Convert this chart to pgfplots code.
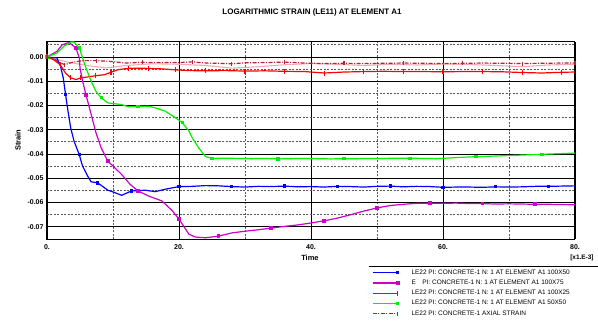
\documentclass[border=0pt]{standalone}
\usepackage{fontspec}
\setmainfont{Liberation Sans}
\usepackage{pgfplots}
\pgfplotsset{compat=1.18}
\definecolor{cblue}{RGB}{0,0,255}
\definecolor{cmag}{RGB}{204,0,204}
\definecolor{cgreen}{RGB}{0,240,0}
\definecolor{cred}{RGB}{255,0,0}
\definecolor{cdred}{RGB}{175,35,50}
\definecolor{cpink}{RGB}{240,170,180}
\begin{document}
\begin{tikzpicture}[font=\fontsize{7}{8}\selectfont]
\path[use as bounding box] (-47bp,-82bp) rectangle (551bp,239bp);
\begin{axis}[
  scale only axis, width=528bp, height=197.3bp,
  at={(0,0)}, anchor=south west,
  clip mode=individual,
  xmin=0, xmax=80, ymin=-0.075, ymax=0.0063,
  scaled y ticks=false, scaled x ticks=false,
  xtick={0,20,40,60,80}, xticklabels={0.,20.,40.,60.,80.},
  minor xtick={10,30,50,70},
  ytick={-0.07,-0.06,-0.05,-0.04,-0.03,-0.02,-0.01,0},
  yticklabels={-0.07,-0.06,-0.05,-0.04,-0.03,-0.02,-0.01,0.00},
  minor ytick={-0.065,-0.055,-0.045,-0.035,-0.025,-0.015,-0.005,0.005},
  grid=both,
  major grid style={black, line width=0.9bp},
  minor grid style={black!65, line width=0.9bp, dash pattern=on 2bp off 1.5bp},
  tick style={draw=none},
  axis line style={black, line width=1bp},
  ticklabel style={font=\bfseries\fontsize{7}{8}\selectfont},
  xticklabel style={yshift=-2bp},
  title={LOGARITHMIC STRAIN (LE11) AT ELEMENT A1},
  title style={at={(axis description cs:0.502,1.12)}, anchor=center, font=\bfseries\fontsize{8}{9}\selectfont},
  xlabel={Time}, ylabel={Strain},
  every axis x label/.style={at={(axis description cs:0.498,-0.0963)}, anchor=center, font=\bfseries\fontsize{7.5}{8}\selectfont},
  every axis y label/.style={at={(axis description cs:-0.0549,0.5)}, rotate=90, anchor=center, font=\bfseries\fontsize{7.5}{8}\selectfont},
  legend style={at={(axis description cs:0.6155,-0.147)}, anchor=north west, draw=none, fill=none, inner sep=0pt,
    font=\fontsize{6.5}{7.5}\selectfont, row sep=1.2bp,
    nodes={inner sep=1.5bp},
    /tikz/every odd column/.append style={column sep=11bp}},
  legend cell align=left,
  legend image code/.code={\draw[#1,mark repeat=3,mark phase=3] plot coordinates {(0bp,0bp)(12.5bp,0bp)(25bp,0bp)};},
]
% pink wandering line (no legend)
\addplot[cpink, line width=1.1bp, forget plot] coordinates {
(0,0)(3,-0.002)(6,-0.0035)(9,-0.0045)(12,-0.0035)(16,-0.0028)(20,-0.003)(24,-0.0035)(28,-0.0046)(32,-0.004)(36,-0.0032)(40,-0.0027)(44,-0.003)(48,-0.0035)(52,-0.003)(56,-0.0033)(60,-0.0029)(64,-0.0031)(68,-0.0035)(72,-0.004)(76,-0.0033)(80,-0.003)};
\addplot[cblue, line width=1.2bp, mark=square*, mark size=1bp, mark repeat=4] coordinates {
(0,0)(1.5,-0.0004)(2.05,-0.0038)(2.46,-0.0086)(2.82,-0.0155)(3.18,-0.0223)(3.59,-0.0292)(4.1,-0.0347)(4.87,-0.0401)(5.38,-0.0449)(6.15,-0.049)(6.67,-0.0514)(7.69,-0.0519)(9.23,-0.0549)(10,-0.0556)(11.3,-0.057)(12.8,-0.0552)(14.9,-0.0549)(16.4,-0.0555)(17.9,-0.0545)(20,-0.0534)(22,-0.0533)(24,-0.0530)(26,-0.0531)(28,-0.0534)(30,-0.0536)(32,-0.0533)(34,-0.0534)(36,-0.0532)(38,-0.0535)(40,-0.0534)(42,-0.0536)(44,-0.0533)(46,-0.0534)(48,-0.0536)(50,-0.0533)(52,-0.0532)(54,-0.0535)(56,-0.0533)(58,-0.0534)(60,-0.0537)(62,-0.0536)(64,-0.0536)(66,-0.0537)(68,-0.0535)(70,-0.0536)(72,-0.0535)(74,-0.0533)(76,-0.0533)(78,-0.0532)(80,-0.0531)};
\addlegendentry{LE22 PI: CONCRETE-1 N: 1 AT ELEMENT A1 100X50}
\addplot[cmag, line width=1.2bp, mark=square*, mark size=1.3bp, mark repeat=4] coordinates {
(0,0)(1.5,0.0023)(2.3,0.005)(3.3,0.006)(4.4,0.0037)(4.9,-0.0004)(5.0,-0.0045)(5.4,-0.010)(5.9,-0.0155)(6.7,-0.0237)(7.4,-0.031)(8.2,-0.0374)(9.2,-0.0429)(10,-0.0449)(11.3,-0.0484)(12.6,-0.0525)(13.8,-0.0552)(15.4,-0.0573)(17.4,-0.0593)(19,-0.0634)(20,-0.0668)(21.5,-0.073)(22.5,-0.0742)(24,-0.0745)(26,-0.0738)(28,-0.0725)(30,-0.0718)(32,-0.0712)(34,-0.0705)(36,-0.0698)(38,-0.0692)(40,-0.0684)(42,-0.0675)(44,-0.0664)(46,-0.0650)(48,-0.0635)(50,-0.0622)(52,-0.0612)(54,-0.0607)(56,-0.0603)(58,-0.0603)(60,-0.0603)(62,-0.0602)(64,-0.0604)(66,-0.0604)(68,-0.0606)(70,-0.0605)(72,-0.0606)(74,-0.0607)(76,-0.0607)(78,-0.0608)(80,-0.0609)};
\addlegendentry{E\quad PI: CONCRETE-1 N: 1 AT ELEMENT A1 100X75}
\addplot[cred, line width=1.2bp, mark=|, mark size=2.5bp, mark repeat=2] coordinates {
(0,0)(1,-0.0011)(2,-0.0032)(2.8,-0.0066)(3.6,-0.0086)(4.4,-0.0093)(5.1,-0.0086)(6.2,-0.0082)(7.4,-0.0077)(8.7,-0.0073)(9.7,-0.0063)(10.8,-0.0052)(12.3,-0.0047)(13.8,-0.0046)(15.4,-0.0047)(17.4,-0.0049)(19.5,-0.0053)(21.5,-0.0056)(24,-0.0057)(27,-0.0056)(30,-0.0058)(33,-0.0057)(36,-0.0059)(39,-0.0060)(42,-0.0066)(45,-0.0062)(48,-0.0060)(51,-0.0059)(54,-0.0060)(57,-0.0060)(60,-0.0061)(63,-0.0060)(66,-0.0060)(69,-0.0061)(72,-0.0064)(75,-0.0066)(78,-0.0063)(80,-0.0062)};
\addlegendentry{LE22 PI: CONCRETE-1 N: 1 AT ELEMENT A1 100X25}
\addplot[cgreen, line width=1.2bp, mark=square*, mark size=1bp, mark repeat=5] coordinates {
(0,0)(1.5,0.0016)(2.56,0.0044)(3.6,0.0062)(4.1,0.0062)(4.9,0.0037)(5.4,-0.0004)(5.9,-0.0045)(6.7,-0.010)(7.4,-0.0141)(8.2,-0.0168)(9.2,-0.0189)(10,-0.0192)(11.3,-0.0196)(12.3,-0.0205)(13.8,-0.0203)(15.4,-0.0203)(16.7,-0.0212)(17.9,-0.0223)(19.5,-0.0251)(20.5,-0.0271)(21.5,-0.0305)(22,-0.0333)(23,-0.0375)(24,-0.0410)(25,-0.0418)(27,-0.0417)(29,-0.0418)(31,-0.0419)(33,-0.0418)(35,-0.0420)(37,-0.0419)(39,-0.0418)(41,-0.0419)(43,-0.0420)(45,-0.0419)(47,-0.0419)(49,-0.0418)(51,-0.0418)(53,-0.0417)(55,-0.0417)(57,-0.0418)(59,-0.0419)(61,-0.0416)(63,-0.0413)(65,-0.0411)(67,-0.0409)(69,-0.0407)(71,-0.0405)(73,-0.0403)(75,-0.0401)(77,-0.0399)(80,-0.0396)};
\addlegendentry{LE22 PI: CONCRETE-1 N: 1 AT ELEMENT A1 50X50}
\addplot[cdred, line width=1.2bp, dash pattern=on 4bp off 1.5bp on 1bp off 1.5bp, mark=|, mark size=2bp, mark repeat=3, mark options={solid}] coordinates {
(0,0)(1,-0.0007)(2,-0.0025)(2.7,-0.0031)(4,-0.0021)(5.5,-0.0015)(7.5,-0.0015)(9.5,-0.0018)(12,-0.0025)(14.5,-0.0022)(17,-0.0023)(20,-0.0023)(22,-0.0020)(24,-0.0025)(26,-0.0026)(28,-0.0028)(30,-0.0024)(33,-0.0023)(36,-0.0021)(39,-0.0025)(42,-0.0027)(45,-0.0026)(48,-0.0027)(51,-0.0026)(54,-0.0025)(57,-0.0026)(60,-0.0027)(63,-0.0026)(66,-0.0025)(69,-0.0026)(72,-0.0027)(75,-0.0026)(78,-0.0025)(80,-0.0025)};
\addlegendentry{LE22 PI: CONCRETE-1 AXIAL STRAIN}
\node[anchor=east, font=\bfseries\fontsize{6.5}{7}\selectfont] at (axis description cs:1.042,-0.0963) {[x1.E-3]};
\draw[black, line width=0.8bp] (axis description cs:0.6098,-0.1368) -- (axis description cs:1.05,-0.1368);
\end{axis}
\end{tikzpicture}
\end{document}
